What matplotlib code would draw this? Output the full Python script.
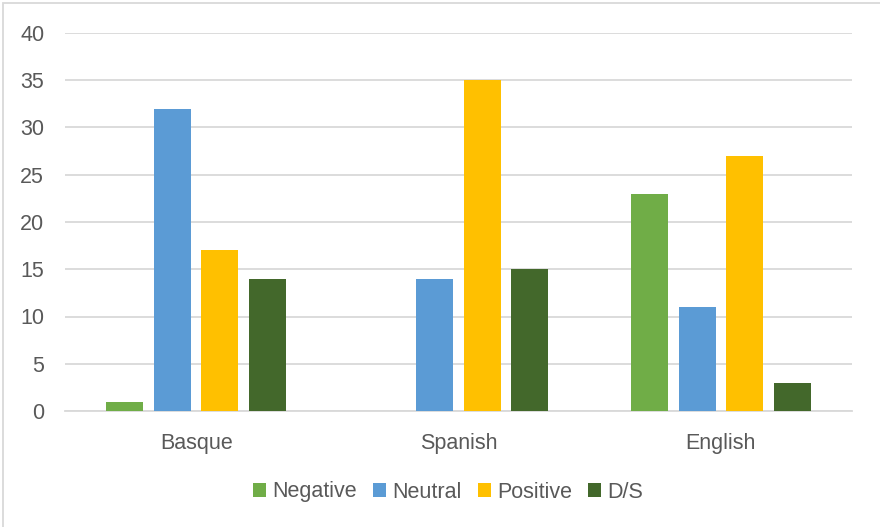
import matplotlib
matplotlib.use("Agg")
import matplotlib.pyplot as plt
import numpy as np
from matplotlib.patches import Rectangle

categories = ["Basque", "Spanish", "English"]
series_names = ["Negative", "Neutral", "Positive", "D/S"]
negative = [1, 0, 23]
neutral = [32, 14, 11]
positive = [17, 35, 27]
ds = [14, 15, 3]
series_values = [negative, neutral, positive, ds]
colors = ["#70AD47", "#5B9BD5", "#FFC000", "#43682B"]
yticks = [0, 5, 10, 15, 20, 25, 30, 35, 40]

plt.rcParams["font.family"] = ["Liberation Sans", "DejaVu Sans"]
text_color = "#595959"

fig = plt.figure(figsize=(8.8, 5.27), dpi=100)
ax = fig.add_axes([65 / 880, 1 - 411 / 527, 787 / 880, 378 / 527])

x = np.arange(len(categories))
bar_w = 0.141
step = 0.181
offsets = (np.arange(len(series_names)) - 1.5) * step
for name, vals, col, off in zip(series_names, series_values, colors, offsets):
    ax.bar(x + off, vals, width=bar_w, color=col, label=name, zorder=3)

ax.set_xlim(-0.5, 2.5)
ax.set_ylim(0, 40)
ax.set_yticks(yticks)
ax.set_xticks(x)
ax.set_xticklabels(categories)
ax.yaxis.grid(True, color="#D9D9D9", linewidth=1.3, zorder=0)
ax.set_axisbelow(True)
for side in ["top", "right", "left"]:
    ax.spines[side].set_visible(False)
ax.spines["bottom"].set_color("#D9D9D9")
ax.spines["bottom"].set_linewidth(1.3)
ax.tick_params(axis="both", length=0, labelsize=15.5, colors=text_color)
ax.tick_params(axis="y", pad=15)
ax.tick_params(axis="x", pad=16)

leg = fig.legend(loc="center", bbox_to_anchor=(448 / 880, 1 - 492 / 527), ncol=4,
                 frameon=False, fontsize=15.5, handlelength=0.6, handleheight=0.6,
                 handletextpad=0.3, columnspacing=0.75, labelcolor=text_color)

# outer chart frame
fig.add_artist(Rectangle((3 / 880, -0.1), 1.2, 1 - 3 / 527 + 0.1, transform=fig.transFigure,
                         fill=False, edgecolor="#D9D9D9", linewidth=1.3))

fig.savefig("out.png", dpi=100, facecolor="white")
